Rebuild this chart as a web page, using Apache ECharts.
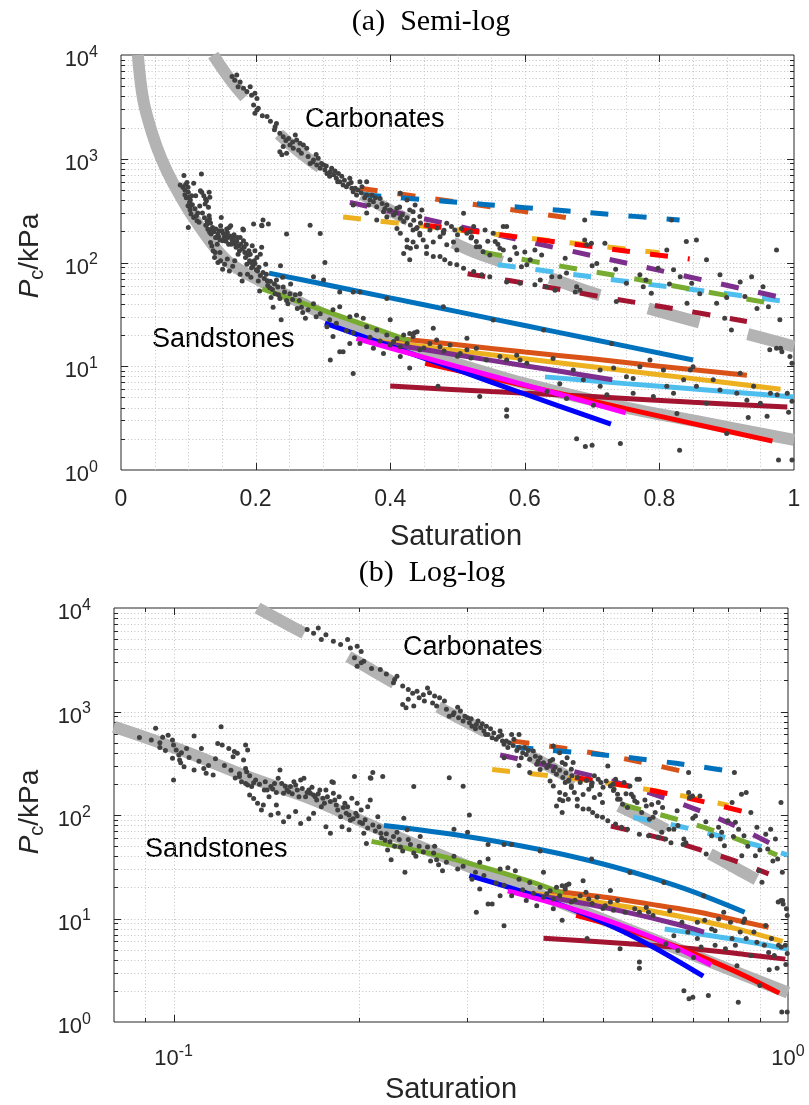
<!DOCTYPE html>
<html>
<head>
<meta charset="utf-8">
<script src="https://cdn.jsdelivr.net/npm/echarts@6.0.0/dist/echarts.min.js"></script>
<style>
html, body { margin: 0; padding: 0; background: #ffffff; }
#chart { width: 809px; height: 1105px; }
</style>
</head>
<body>
<div id="chart"></div>
<script>
// ---------- Measured capillary-pressure samples [saturation, Pc (kPa)] ----------
const sandstonePoints = [
  [0.088,560],[0.0935,690],[0.092,530],[0.095,500],[0.096,565],[0.098,590],[0.0996,530],[0.100,475],
  [0.101,425],[0.102,380],[0.0996,353],[0.1023,340],[0.1027,320],[0.104,293],[0.105,440],[0.108,580],
  [0.111,440],[0.108,272],[0.112,282],[0.113,253],[0.116,244],[0.118,492],[0.1195,713],[0.120,475],
  [0.123,440],[0.125,366],[0.1256,410],[0.127,394],[0.131,475],[0.132,425],[0.130,340],[0.131,282],
  [0.1315,262],[0.128,235],[0.129,210],[0.131,202],[0.132,195],[0.134,188],[0.136,218],[0.133,156],
  [0.135,144],[0.137,130],[0.139,112],[0.140,125],[0.1405,174],[0.142,174],[0.143,150],[0.144,188],
  [0.146,202],[0.148,226],[0.149,272],[0.150,202],[0.151,162],[0.153,174],[0.155,188],[0.157,210],
  [0.159,174],[0.160,150],[0.161,218],[0.163,226],[0.164,150],[0.166,174],[0.167,162],[0.169,156],
  [0.171,140],[0.173,174],[0.174,120],[0.176,130],[0.177,174],[0.181,210],[0.182,162],[0.183,140],
  [0.185,112],[0.187,96],[0.188,77],[0.191,104],[0.192,120],[0.193,72],[0.194,89],[0.195,145],
  [0.197,235],[0.198,104],[0.199,130],[0.202,112],[0.203,83],[0.204,66.5],[0.206,53],[0.207,120],
  [0.209,140],[0.2095,226],[0.215,96],[0.216,77],[0.2175,66.5],[0.219,235],[0.221,57],[0.223,46],
  [0.226,37],[0.228,62],[0.234,49],[0.237,93],[0.238,28],[0.240,72],[0.246,188],[0.246,43],
  [0.252,62],[0.259,49],[0.265,43],[0.268,37],[0.274,29],[0.147,125],[0.144,100],[0.148,104],
  [0.151,86],[0.154,96],[0.158,108],[0.161,83],[0.166,92],[0.169,104],[0.177,77],[0.180,66.5],
  [0.100,218],[0.182,206],[0.209,229],[0.281,229],[0.296,190],[0.211,257],[0.303,100],
  [0.126,228],[0.128,250],[0.133,240],[0.135,205],[0.138,198],[0.141,210],[0.145,178],[0.147,165],
  [0.152,190],[0.154,168],[0.156,160],[0.158,195],[0.162,180],[0.165,165],[0.168,185],[0.170,150],
  [0.172,160],[0.175,145],[0.178,150],[0.180,135],[0.184,125],[0.186,150],[0.189,118],[0.190,130],
  [0.193,100],[0.196,92],[0.199,98],[0.201,85],[0.205,90],[0.207,75],[0.211,80],[0.213,70],
  [0.218,60],[0.222,66],[0.225,55],[0.229,50],[0.233,58],[0.236,45],[0.243,52],[0.248,40],
  [0.255,44],[0.262,36],[0.27,33],[0.278,35],[0.29,30],[0.31,28],[0.32,26],[0.335,22],
  [0.345,21],[0.37,19],[0.385,17.5],[0.40,16],[0.41,18.5],[0.45,15],[0.48,14],[0.50,12.5],
  [0.52,12],[0.095,450],[0.097,420],[0.103,400],[0.106,360],[0.110,330],[0.114,300],[0.117,350],
  [0.121,300],[0.124,270],
  [0.231,68],[0.241,58],[0.251,50],[0.266,50],[0.286,40],[0.296,32],[0.306,24],[0.315,35],
  [0.325,37.5],[0.34,30],[0.35,31],[0.36,29],[0.365,24],[0.38,22.3],[0.395,20],[0.405,17.3],
  [0.415,15.4],[0.429,20.7],[0.434,19.3],[0.311,11.5],[0.345,8.5],[0.325,13.8],[0.330,13.8],[0.40,28],
  [0.395,45],[0.429,9.6],[0.315,19.3],[0.34,16.6],[0.355,16.6],[0.375,14.9],[0.39,13.3],[0.415,12.4],
  [0.345,52],[0.325,52],[0.355,52],[0.301,68],[0.286,73],
  [0.42,20],[0.436,21],[0.44,21.5],[0.425,16.6],[0.444,14.4],[0.459,16.6],[0.469,17.9],[0.474,15.4],
  [0.464,23.2],[0.479,37.5],[0.489,16],[0.504,13.3],[0.514,14.4],[0.514,18.6],[0.528,14.9],[0.533,5.1],
  [0.543,11.5],[0.553,27.9],[0.563,12.4],[0.573,11.5],[0.573,3.8],[0.588,12.8],[0.593,11.5],[0.603,10.7],
  [0.628,22.3],[0.633,5.7],[0.642,11.9],[0.652,6.8],[0.662,4.9],[0.672,9.2],[0.677,2.0],[0.687,7.4],
  [0.69,1.68],[0.70,1.73],[0.712,9.2],[0.722,5.3],[0.729,16.6],[0.732,9.6],[0.742,1.8],[0.751,7.9],
  [0.761,5.5],[0.771,9.9],[0.786,11.5],[0.791,5.1],[0.806,9.2],[0.811,6.4],[0.821,5.5],[0.826,3.5],
  [0.83,1.55],[0.836,7.4],[0.846,9.2],[0.85,9.9],[0.855,6.4],[0.87,4.4],[0.88,7.4],[0.89,5.9],
  [0.90,2.25],[0.915,5.5],[0.92,8.55],[0.93,4.7],[0.932,3.2],[0.94,6.4],[0.95,4.4],[0.96,3.3],
  [0.965,5.5],[0.975,5.3],[0.977,1.25],[0.99,5.5],[0.992,3.6],[0.997,4.6],[0.997,1.25],[0.471,6.4],
  [0.573,3.3],[0.712,6.4],[0.761,7.6],[0.702,4.2]
];

const carbonatePoints = [
  [0.165,6200],[0.169,5700],[0.172,6400],[0.177,5500],[0.174,4950],[0.182,4770],[0.192,4950],[0.187,4440],
  [0.194,4100],[0.199,4270],[0.202,3800],[0.197,3300],[0.202,2950],[0.204,3060],[0.199,2740],[0.217,2550],
  [0.231,2190],[0.229,2040],[0.236,1760],[0.241,1630],[0.249,1570],[0.259,1690],[0.261,1520],[0.266,1410],
  [0.251,1360],[0.241,1310],[0.236,1170],[0.239,1090],[0.246,1130],[0.256,1260],[0.264,1210],[0.268,1130],
  [0.271,1360],[0.276,1260],[0.278,1050],[0.281,900],[0.286,970],[0.291,870],[0.293,1010],[0.296,810],
  [0.301,870],[0.303,780],[0.306,720],[0.311,750],[0.313,810],[0.316,700],[0.32,647],[0.323,720],
  [0.325,600],[0.33,558],[0.335,538],[0.34,647],[0.343,519],[0.345,482],[0.35,448],[0.355,600],
  [0.358,538],[0.365,448],[0.365,600],[0.368,358],[0.373,448],[0.375,385],[0.38,345],[0.385,415],
  [0.39,309],[0.395,358],[0.405,287],[0.41,333],[0.415,267],[0.42,248],[0.43,230],[0.434,309],
  [0.439,213],[0.444,184],[0.449,165],[0.454,142],[0.464,158],[0.474,177],[0.484,148],[0.494,158],
  [0.499,132],[0.434,158],[0.43,137],[0.41,213],[0.345,358],[0.425,141],[0.44,218],[0.365,300],
  [0.38,257],[0.395,275],[0.414,343],
  [0.285,930],[0.29,1100],[0.298,900],[0.305,850],[0.31,680],[0.318,760],[0.322,600],[0.328,680],
  [0.332,620],[0.338,570],[0.342,590],[0.348,520],[0.352,500],[0.357,470],[0.362,420],[0.37,400],
  [0.378,420],[0.388,370],[0.392,330],[0.4,320],[0.408,300],[0.418,290],[0.425,270],[0.435,255],
  [0.445,240],[0.455,230],[0.47,215],[0.48,205],[0.50,185],[0.52,172],[0.545,160],[0.56,150],
  [0.585,140],[0.6,126],[0.625,118],[0.66,110],[0.70,93],[0.735,86],[0.78,68],[0.815,62],
  [0.86,50],[0.9,46],[0.945,36],[0.255,1450],[0.245,1500],[0.228,1900],[0.222,2300],[0.21,2600],
  [0.484,239],[0.491,222],[0.479,198],[0.496,206],[0.506,213],[0.519,198],[0.521,177],[0.528,159],
  [0.533,142],[0.538,127],[0.548,118],[0.553,191],[0.556,159],[0.563,137],[0.568,132],[0.573,222],
  [0.578,106],[0.588,122],[0.595,91],[0.603,95],[0.608,106],[0.615,132],[0.623,68],[0.632,58.5],
  [0.64,73],[0.652,73],[0.662,79],[0.675,52],[0.677,58.5],[0.682,54],[0.689,165],[0.692,148],
  [0.699,153],[0.707,98],[0.719,153],[0.736,42],[0.751,63],[0.771,76],[0.776,58.5],[0.788,50.5],
  [0.798,88],[0.811,132],[0.821,85],[0.831,73],[0.841,40.4],[0.848,63],[0.855,165],[0.87,106],
  [0.885,40.4],[0.89,76],[0.897,29],[0.907,22.4],[0.92,65],[0.927,47],[0.937,73],[0.954,58.5],
  [0.962,37.5],[0.974,132],[0.979,28],[0.964,14.4],[0.974,14.9],[0.982,13.8],[0.997,10.7],[0.98,14.9],
  [0.994,12.4],
  [0.474,114],[0.481,106],[0.489,98],[0.499,95],[0.509,88],[0.524,82],[0.536,76],[0.548,73],
  [0.573,65],[0.593,63],[0.615,61],[0.645,54],
  [0.429,321],[0.444,277],[0.434,206],[0.425,165],[0.439,142],[0.454,122],[0.464,114],[0.42,122],
  [0.429,106],[0.415,191],[0.444,191],[0.459,206],[0.479,191],[0.514,191],[0.528,142],
  [0.415,464],[0.425,400],[0.437,358],[0.447,321],[0.509,298],[0.524,222],[0.541,206],[0.568,222],
  [0.818,257],[0.689,257],[0.84,159]
];

// ---------- Overall fitted trends (thick grey) ----------
const sandstoneFitSemiLog = [[0.025,10000],[0.033,3700],[0.046,1780],[0.06,1000],[0.077,590],[0.107,275],
  [0.157,105],[0.214,63],[0.3,32],[0.4,17],[0.5,10.5],[0.6,6.8],[0.75,4.0],[0.85,3.0],[1.0,1.95]];
const sandstoneFitLogLog = [[0.08,713],[0.1027,425],[0.132,235],[0.169,140],[0.2175,72],[0.276,39.5],
  [0.4,16.5],[0.6,6.4],[0.8,3.25],[1.0,1.92]];
const carbonateFit = [[0.137,10000],[0.164,5600],[0.194,3300],[0.23,1850],[0.27,1100],[0.32,650],
  [0.385,360],[0.45,215],[0.52,130],[0.58,95],[0.637,71],[0.7,51],[0.75,41.5],[0.85,27.5],[0.93,20.5],[1.0,15.5]];

// ---------- Individual sample fits: sandstones (solid) ----------
const sandBlue      = [[0.22,79],[0.3,62],[0.4,45.6],[0.5,33.6],[0.6,24.7],[0.7,18.2],[0.85,11.5]];
const sandOrange    = [[0.41,18.5],[0.5,16.1],[0.6,13.7],[0.7,11.8],[0.8,10.0],[0.93,8.2]];
const sandYellow    = [[0.35,18.5],[0.45,15.5],[0.55,12.9],[0.65,10.8],[0.75,9.05],[0.85,7.6],[0.98,6.0]];
const sandPurple    = [[0.36,18],[0.45,14.5],[0.55,11.4],[0.65,9.0],[0.73,7.4]];
const sandLightBlue = [[0.63,7.9],[0.75,6.8],[0.87,5.9],[1.0,5.06]];
const sandDarkRed   = [[0.40,6.46],[0.55,5.7],[0.7,5.1],[0.85,4.5],[0.99,4.05]];
const sandGreen     = [[0.21,55.6],[0.26,42.8],[0.32,31.2],[0.38,22.8],[0.43,17.5]];
const sandPureBlue  = [[0.303,26],[0.4,15.6],[0.5,9.2],[0.6,5.4],[0.728,2.77]];
const sandMagenta   = [[0.35,18.5],[0.45,12.2],[0.55,8.1],[0.65,5.4],[0.75,3.55]];
const sandRed       = [[0.452,10.7],[0.55,7.7],[0.65,5.5],[0.75,3.9],[0.85,2.8],[0.968,1.9]];

// ---------- Individual sample fits: carbonates (dashed) ----------
const carbBlue      = [[0.36,450],[0.48,390],[0.6,338],[0.72,293],[0.83,257]];
const carbOrange    = [[0.355,520],[0.45,425],[0.55,344],[0.69,255]];
const carbPurple    = [[0.34,380],[0.5,224],[0.65,137],[0.8,84],[0.975,47]];
const carbYellow    = [[0.33,275],[0.45,224],[0.57,183],[0.69,149],[0.80,124]];
const carbRed       = [[0.45,230],[0.55,190],[0.65,157],[0.75,129],[0.845,108]];
const carbGreen     = [[0.54,125],[0.65,93],[0.75,72],[0.85,55],[0.96,41]];
const carbLightBlue = [[0.56,95],[0.67,77],[0.78,62],[0.89,51],[1.0,41]];
const carbDarkRed   = [[0.515,78],[0.62,60],[0.72,46],[0.82,36],[0.93,27]];

// ---------- Axis ranges, grid and tick values ----------
const pcRange = [1, 10000];
const satRangeSemi = [0, 1];
const satRangeLog = [0.08, 1];
const semiXGrid = [0.05,0.1,0.15,0.2,0.25,0.3,0.35,0.4,0.45,0.5,0.55,0.6,0.65,0.7,0.75,0.8,0.85,0.9,0.95];
const semiXTicks = [0.2,0.4,0.6,0.8];
const logXMinor = [0.09,0.2,0.3,0.4,0.5,0.6,0.7,0.8,0.9];
const logXMajor = [0.1];
const pcMinor = [2,3,4,5,6,7,8,9,20,30,40,50,60,70,80,90,200,300,400,500,600,700,800,900,
                 2000,3000,4000,5000,6000,7000,8000,9000];
const pcMajor = [10,100,1000];

// ---------- Styling ----------
const SANS = '"Liberation Sans", Arial, Helvetica, sans-serif';
const SERIF = '"Liberation Serif", "Times New Roman", serif';
const AXIS_TXT = '#262626';
const BOX = '#262626';
const GRID_CLR = '#c2c2c2';
const FIT_GREY = '#b3b3b3';
const DOT = '#404040';
const C = {
  blue: '#0072BD', orange: '#D95319', yellow: '#EDB120', purple: '#7E2F8E',
  green: '#77AC30', lightBlue: '#4DBEEE', darkRed: '#A2142F',
  pureBlue: '#0000FF', magenta: '#FF00FF', red: '#FF0000'
};
const xRanges = [satRangeSemi, satRangeLog];

function powerLabel(v) {
  const e = Math.log10(v);
  const r = Math.round(e);
  if (Math.abs(e - r) > 1e-6) return '';
  return '{b|10}{s|' + r + '}';
}
const powerRich = {
  b: { fontSize: 22, fontFamily: SANS, color: AXIS_TXT, padding: [10, 0, 0, 0] },
  s: { fontSize: 16, fontFamily: SANS, color: AXIS_TXT, padding: [0, 0, 5, 0] }
};

// grid rules and inward ticks drawn through the axis scales
function rules(panel, values, orient, dotted, tickLen) {
  const xr = xRanges[panel];
  return {
    type: 'custom', xAxisIndex: panel, yAxisIndex: panel, z: 1, silent: true, animation: false,
    data: values.map(v => orient === 'v' ? [v, pcRange[0]] : [xr[0], v]),
    renderItem: function (params, api) {
      const v = api.value(orient === 'v' ? 0 : 1);
      const a = orient === 'v' ? api.coord([v, pcRange[0]]) : api.coord([xr[0], v]);
      const b = orient === 'v' ? api.coord([v, pcRange[1]]) : api.coord([xr[1], v]);
      const kids = [];
      const seg = (x1, y1, x2, y2, style) => ({ type: 'line', shape: { x1, y1, x2, y2 }, style });
      const tickStyle = { stroke: BOX, lineWidth: 1 };
      if (orient === 'v') {
        const x = Math.round(a[0]) + 0.5;
        if (dotted) kids.push(seg(x, a[1], x, b[1], { stroke: GRID_CLR, lineWidth: 1, lineDash: [1, 2.4] }));
        if (tickLen) {
          kids.push(seg(x, a[1], x, a[1] - tickLen, tickStyle));
          kids.push(seg(x, b[1], x, b[1] + tickLen, tickStyle));
        }
      } else {
        const y = Math.round(a[1]) + 0.5;
        if (dotted) kids.push(seg(a[0], y, b[0], y, { stroke: GRID_CLR, lineWidth: 1, lineDash: [1, 2.4] }));
        if (tickLen) {
          kids.push(seg(a[0], y, a[0] + tickLen, y, tickStyle));
          kids.push(seg(b[0], y, b[0] - tickLen, y, tickStyle));
        }
      }
      return { type: 'group', children: kids };
    }
  };
}

function curve(panel, data, color, width, dash, z) {
  return {
    type: 'line', xAxisIndex: panel, yAxisIndex: panel, data: data,
    symbol: 'none', showSymbol: false, smooth: 0.35, silent: true, animation: false, clip: true,
    lineStyle: { color: color, width: width, type: dash || 'solid', cap: 'butt' },
    z: z
  };
}

function panelSeries(panel) {
  const s = [];
  if (panel === 0) {
    s.push(rules(0, semiXGrid, 'v', true, 0));
    s.push(rules(0, semiXTicks, 'v', false, 7));
  } else {
    s.push(rules(1, logXMinor, 'v', true, 4));
    s.push(rules(1, logXMajor, 'v', true, 7));
  }
  s.push(rules(panel, pcMinor, 'h', true, 4));
  s.push(rules(panel, pcMajor, 'h', true, 7));

  s.push(curve(panel, panel === 0 ? sandstoneFitSemiLog : sandstoneFitLogLog, FIT_GREY, 12, null, 2));
  s.push(curve(panel, carbonateFit, FIT_GREY, 12, [53, 50], 2));

  const dash = [18, 20];
  s.push(curve(panel, carbDarkRed, C.darkRed, 5, dash, 3));
  s.push(curve(panel, carbLightBlue, C.lightBlue, 5, dash, 3));
  s.push(curve(panel, carbGreen, C.green, 5, dash, 3));
  s.push(curve(panel, carbPurple, C.purple, 5, dash, 3));
  s.push(curve(panel, carbYellow, C.yellow, 5, dash, 3));
  s.push(curve(panel, carbRed, C.red, 5, dash, 3));
  s.push(curve(panel, carbOrange, C.orange, 5, dash, 3));
  s.push(curve(panel, carbBlue, C.blue, 5, dash, 3));

  s.push(curve(panel, sandDarkRed, C.darkRed, 5, null, 3));
  s.push(curve(panel, sandLightBlue, C.lightBlue, 5, null, 3));
  s.push(curve(panel, sandYellow, C.yellow, 5, null, 3));
  s.push(curve(panel, sandOrange, C.orange, 5, null, 3));
  s.push(curve(panel, sandPurple, C.purple, 5, null, 3));
  s.push(curve(panel, sandBlue, C.blue, 5, null, 3));
  s.push(curve(panel, sandGreen, C.green, 5, null, 3));
  s.push(curve(panel, sandRed, C.red, 5, null, 3));
  s.push(curve(panel, sandPureBlue, C.pureBlue, 5, null, 3));
  s.push(curve(panel, sandMagenta, C.magenta, 5, null, 3));

  s.push({
    type: 'scatter', xAxisIndex: panel, yAxisIndex: panel, symbol: 'circle', symbolSize: 5,
    data: sandstonePoints.concat(carbonatePoints), itemStyle: { color: DOT, opacity: 1 },
    silent: true, animation: false, z: 5
  });
  return s;
}

const hidden = { axisLine: { show: false }, axisTick: { show: false }, splitLine: { show: false } };

const yLabelStyle = {
  text: '{i|P}{s|c}{n|/kPa}', align: 'center', verticalAlign: 'middle', fill: AXIS_TXT,
  rich: { i: { fontSize: 28, fontStyle: 'italic', fontFamily: SANS, color: AXIS_TXT },
          s: { fontSize: 20, fontFamily: SANS, color: AXIS_TXT, padding: [14, 0, 0, 0] },
          n: { fontSize: 28, fontFamily: SANS, color: AXIS_TXT } }
};

const option = {
  animation: false,
  backgroundColor: '#ffffff',
  textStyle: { fontFamily: SANS },
  grid: [
    { left: 121, top: 55, width: 673, height: 415, show: true, borderColor: BOX, borderWidth: 1,
      backgroundColor: 'rgba(0,0,0,0)', containLabel: false, outerBoundsMode: 'none' },
    { left: 114, top: 608, width: 674, height: 414, show: true, borderColor: BOX, borderWidth: 1,
      backgroundColor: 'rgba(0,0,0,0)', containLabel: false, outerBoundsMode: 'none' }
  ],
  xAxis: [
    Object.assign({ gridIndex: 0, type: 'value', min: satRangeSemi[0], max: satRangeSemi[1], interval: 0.2,
      axisLabel: { fontSize: 23, color: AXIS_TXT, fontFamily: SANS, margin: 18 } }, hidden),
    Object.assign({ gridIndex: 1, type: 'log', logBase: 10, min: satRangeLog[0], max: satRangeLog[1],
      axisLabel: { formatter: powerLabel, rich: powerRich, margin: 16, showMinLabel: true } }, hidden)
  ],
  yAxis: [
    Object.assign({ gridIndex: 0, type: 'log', logBase: 10, min: pcRange[0], max: pcRange[1],
      axisLabel: { formatter: powerLabel, rich: powerRich, margin: 23 } }, hidden),
    Object.assign({ gridIndex: 1, type: 'log', logBase: 10, min: pcRange[0], max: pcRange[1],
      axisLabel: { formatter: powerLabel, rich: powerRich, margin: 23 } }, hidden)
  ],
  series: panelSeries(0).concat(panelSeries(1)),
  graphic: [
    { type: 'text', x: 431, y: 22, style: { text: '(a)  Semi-log', font: '30px ' + SERIF, fill: '#000', align: 'center', verticalAlign: 'middle' } },
    { type: 'text', x: 432, y: 573, style: { text: '(b)  Log-log', font: '30px ' + SERIF, fill: '#000', align: 'center', verticalAlign: 'middle' } },
    { type: 'text', x: 456, y: 537, style: { text: 'Saturation', font: '29px ' + SANS, fill: AXIS_TXT, align: 'center', verticalAlign: 'middle' } },
    { type: 'text', x: 451, y: 1090, style: { text: 'Saturation', font: '29px ' + SANS, fill: AXIS_TXT, align: 'center', verticalAlign: 'middle' } },
    { type: 'text', x: 305, y: 120, style: { text: 'Carbonates', font: '27px ' + SANS, fill: '#000', align: 'left', verticalAlign: 'middle' } },
    { type: 'text', x: 152, y: 340, style: { text: 'Sandstones', font: '27px ' + SANS, fill: '#000', align: 'left', verticalAlign: 'middle' } },
    { type: 'text', x: 403, y: 648, style: { text: 'Carbonates', font: '27px ' + SANS, fill: '#000', align: 'left', verticalAlign: 'middle' } },
    { type: 'text', x: 145, y: 850, style: { text: 'Sandstones', font: '27px ' + SANS, fill: '#000', align: 'left', verticalAlign: 'middle' } },
    { type: 'text', x: 30, y: 256, rotation: Math.PI / 2, style: yLabelStyle },
    { type: 'text', x: 30, y: 812, rotation: Math.PI / 2, style: yLabelStyle }
  ]
};

const chart = echarts.init(document.getElementById('chart'), null, { renderer: 'canvas', width: 809, height: 1105 });
chart.setOption(option);
</script>
</body>
</html>
